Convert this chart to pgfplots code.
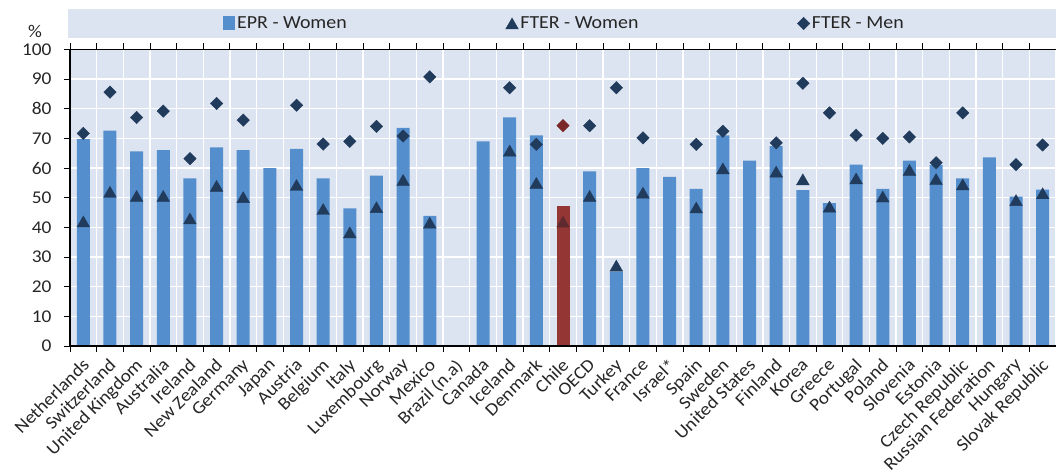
\documentclass[border=0pt]{standalone}
\usepackage{fontspec}
\setmainfont{Carlito}[FakeStretch=1.08]
\usepackage{pgfplots}
\pgfplotsset{compat=1.18}

\definecolor{plotbg}{HTML}{DCE4F1}
\definecolor{barblue}{HTML}{558ECD}
\definecolor{navy}{HTML}{213B5C}
\definecolor{chilered}{HTML}{943634}
\definecolor{chiledia}{HTML}{7A2828}
\definecolor{chiletri}{HTML}{5E2A30}
\definecolor{txt}{HTML}{262626}

\begin{document}
\begin{tikzpicture}
% legend band
\fill[plotbg] (-2bp,308bp) rectangle (986bp,337bp);
\begin{axis}[
  at={(0,0)}, anchor=south west,
  scale only axis, width=986bp, height=296.5bp,
  xmin=-0.5, xmax=36.5, ymin=0, ymax=100,
  clip=false,
  axis background/.style={fill=plotbg},
  axis line style={black, line width=0.8bp},
  ytick={0,10,...,100},
  xtick={-0.5,0.5,...,36.5},
  xticklabels={},
  extra x ticks={0,...,36},
  extra x tick labels={Netherlands,Switzerland,United Kingdom,Australia,Ireland,New Zealand,Germany,Japan,Austria,Belgium,Italy,Luxembourg,Norway,Mexico,Brazil (n.a),Canada,Iceland,Denmark,Chile,OECD,Turkey,France,Israel*,Spain,Sweden,United States,Finland,Korea,Greece,Portugal,Poland,Slovenia,Estonia,Czech Republic,Russian Federation,Hungary,Slovak Republic},
  extra x tick style={major tick length=0pt, grid=none,
    xticklabel style={xshift=-2bp, yshift=-8.5bp, rotate=45, anchor=north east, inner sep=2bp}},
  yticklabel style={xshift=-9bp},
  xmajorgrids, ymajorgrids,
  major grid style={white, line width=1.3bp},
  tick align=outside,
  major tick length=6bp,
  tick style={black, line width=0.8bp},
  tick label style={font=\fontsize{18}{20}\selectfont, text=txt},
  /pgf/number format/assume math mode=true,
  legend columns=3,
  legend style={at={(0.5015,1)}, anchor=center, yshift=26bp, draw=none, fill=none,
    font=\fontsize{18.5}{20}\selectfont, text=txt,
    /tikz/every even column/.append style={column sep=157bp}},
]
\addplot[ybar, bar width=13bp, bar shift=0pt, fill=barblue, draw=none,
  legend image code/.code={\fill[barblue] (5bp,-7bp) rectangle (17bp,7bp);}]
  coordinates {
  (0,69.8) (1,72.6) (2,65.6) (3,66.1) (4,56.5) (5,67.0) (6,66.1) (7,60.0)
  (8,66.5) (9,56.5) (10,46.4) (11,57.5) (12,73.6) (13,43.9) (15,69.0)
  (16,77.1) (17,71.0) (19,58.9) (20,25.1) (21,60.0) (22,57.0) (23,53.0)
  (24,71.0) (25,62.5) (26,67.4) (27,52.6) (28,48.2) (29,61.2) (30,53.0)
  (31,62.5) (32,61.0) (33,56.5) (34,63.6) (35,50.4) (36,52.7)
};
\addlegendentry{EPR - Women}
\addplot[only marks, mark=triangle*, mark size=7.3bp, color=navy,
  mark options={yshift=-1.8bp}]
  coordinates {
  (0,42.0) (1,52.0) (2,50.6) (3,50.6) (4,43.0) (5,54.0) (6,50.2)
  (8,54.3) (9,46.2) (10,38.3) (11,46.8) (12,56.0) (13,41.6)
  (16,65.9) (17,55.0) (19,50.6) (20,27.1) (21,51.7) (23,46.7)
  (24,59.9) (26,58.8) (27,56.2) (28,47.0) (29,56.5) (30,50.4)
  (31,59.4) (32,56.3) (33,54.5) (35,49.2) (36,51.5)
};
\addlegendentry{FTER - Women}
\addplot[only marks, mark=square*, mark size=4.4bp, color=navy,
  mark options={rotate=45}]
  coordinates {
  (0,71.7) (1,85.6) (2,77.1) (3,79.2) (4,63.2) (5,81.8) (6,76.2)
  (8,81.2) (9,68.1) (10,69.0) (11,74.1) (12,70.8) (13,90.8)
  (16,87.1) (17,68.0) (19,74.3) (20,87.1) (21,70.2) (23,68.0)
  (24,72.4) (26,68.5) (27,88.6) (28,78.6) (29,71.1) (30,70.0)
  (31,70.5) (32,61.8) (33,78.6) (35,61.2) (36,67.8)
};
\addlegendentry{FTER - Men}
% Chile highlighted
\addplot[forget plot, ybar, bar width=13bp, bar shift=0pt, fill=chilered, draw=none]
  coordinates {(18,47.2)};
\addplot[forget plot, only marks, mark=triangle*, mark size=7.3bp, color=chiletri,
  mark options={yshift=-1.8bp}]
  coordinates {(18,41.9)};
\addplot[forget plot, only marks, mark=square*, mark size=4.4bp, color=chiledia,
  mark options={rotate=45}]
  coordinates {(18,74.3)};
\draw[black, line width=2.4bp] (rel axis cs:0,1) -- (rel axis cs:0,0) -- (rel axis cs:1,0);
\node[text=txt, font=\fontsize{18}{20}\selectfont] at (rel axis cs:0,1) [xshift=-35bp, yshift=18.5bp] {\%};
\end{axis}
\pgfresetboundingbox
\useasboundingbox (-70bp,-127bp) rectangle (986bp,346bp);
\end{tikzpicture}
\end{document}
